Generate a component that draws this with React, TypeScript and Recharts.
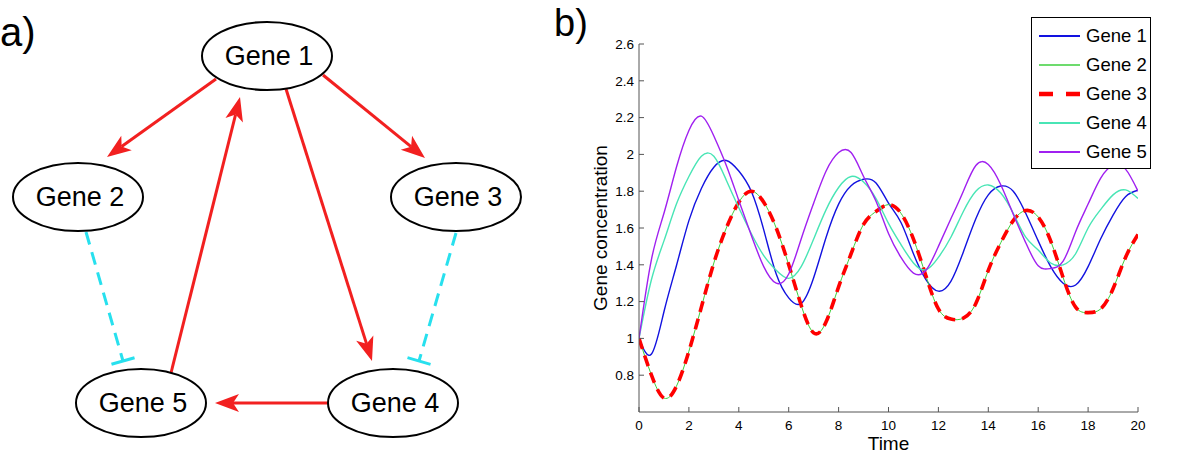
import React from 'react';
import {
  LineChart,
  Line,
  XAxis,
  YAxis,
  Legend,
  Label,
  ScatterChart,
  Scatter,
  ReferenceLine,
} from 'recharts';

// ---- panel b) data (time step 0.5) ----
const time = [
  0, 0.5, 1, 1.5, 2, 2.5, 3, 3.5, 4, 4.5, 5, 5.5, 6, 6.5, 7, 7.5, 8, 8.5, 9, 9.5, 10,
  10.5, 11, 11.5, 12, 12.5, 13, 13.5, 14, 14.5, 15, 15.5, 16, 16.5, 17, 17.5, 18, 18.5, 19, 19.5, 20,
];
const gene1 = [
  1.0, 0.915, 1.145, 1.395, 1.64, 1.815, 1.93, 1.967, 1.91, 1.8, 1.59, 1.35, 1.22, 1.19, 1.33, 1.55,
  1.73, 1.83, 1.865, 1.845, 1.735, 1.63, 1.46, 1.32, 1.257, 1.31, 1.47, 1.65, 1.78, 1.828, 1.8, 1.68,
  1.53, 1.39, 1.3, 1.29, 1.39, 1.54, 1.67, 1.77, 1.805,
];
const gene3 = [
  1.0, 0.8, 0.676, 0.74, 0.93, 1.17, 1.41, 1.6, 1.74, 1.8, 1.74, 1.6, 1.4, 1.18, 1.03, 1.09, 1.28,
  1.46, 1.62, 1.69, 1.727, 1.68, 1.54, 1.34, 1.16, 1.105, 1.11, 1.19, 1.37, 1.52, 1.64, 1.695, 1.66,
  1.53, 1.33, 1.17, 1.14, 1.16, 1.27, 1.44, 1.565,
];
// gene 2 lies exactly under gene 3 in the figure
const gene2 = gene3;
const gene4 = [
  1.0, 1.32, 1.53, 1.73, 1.88, 1.99, 1.99, 1.86, 1.71, 1.57, 1.45, 1.37, 1.326, 1.39, 1.54, 1.7,
  1.82, 1.88, 1.85, 1.76, 1.625, 1.51, 1.41, 1.373, 1.44, 1.55, 1.69, 1.8, 1.834, 1.79, 1.68, 1.55,
  1.48, 1.41, 1.4, 1.46, 1.6, 1.7, 1.78, 1.807, 1.76,
];
const gene5 = [
  1.0, 1.43, 1.68, 1.93, 2.13, 2.208, 2.1, 1.94, 1.75, 1.56, 1.39, 1.3, 1.35, 1.54, 1.735, 1.91,
  2.01, 2.01, 1.88, 1.745, 1.57, 1.44, 1.355, 1.37, 1.5, 1.65, 1.8, 1.94, 1.945, 1.835, 1.675, 1.52,
  1.395, 1.38, 1.42, 1.58, 1.73, 1.87, 1.94, 1.92, 1.8,
];
const xTicks = [0, 2, 4, 6, 8, 10, 12, 14, 16, 18, 20];
const yTicks = [0.8, 1, 1.2, 1.4, 1.6, 1.8, 2, 2.2, 2.4, 2.6];

// ---- panel a) network, in the panel's own 540x464 space ----
const nodes = [
  { name: 'Gene 1', x: 267, y: 56 },
  { name: 'Gene 2', x: 78, y: 197 },
  { name: 'Gene 3', x: 456, y: 197 },
  { name: 'Gene 4', x: 393, y: 403 },
  { name: 'Gene 5', x: 141, y: 403 },
];
const edges = [
  { from: [216, 79], to: [107, 157], kind: 'act' },
  { from: [323, 75], to: [425, 158], kind: 'act' },
  { from: [286, 89], to: [372, 361], kind: 'act' },
  { from: [171, 373], to: [240, 97], kind: 'act' },
  { from: [328, 403], to: [215, 403], kind: 'act' },
  { from: [86, 232], to: [123, 361], kind: 'inh' },
  { from: [456, 233], to: [419, 361], kind: 'inh' },
];

const FONT = '"Liberation Sans", Arial, Helvetica, sans-serif';
const RED = '#f22020';
const CYAN = '#27e0ee';

const SERIES = [
  { key: 'gene1', name: 'Gene 1', color: '#1212e0', width: 1.4 },
  { key: 'gene2', name: 'Gene 2', color: '#3ccf3c', width: 1 },
  { key: 'gene3', name: 'Gene 3', color: '#ff0000', width: 3.6, dash: '11 7', legendDash: '14 13' },
  { key: 'gene4', name: 'Gene 4', color: '#48e5b5', width: 1.4 },
  { key: 'gene5', name: 'Gene 5', color: '#a020f0', width: 1.4 },
];

const rows = time.map((t, i) => ({
  t,
  gene1: gene1[i],
  gene2: gene2[i],
  gene3: gene3[i],
  gene4: gene4[i],
  gene5: gene5[i],
}));

function EdgeShape(props: any) {
  const { x1, y1, x2, y2, kind } = props;
  const dx = x2 - x1;
  const dy = y2 - y1;
  const len = Math.hypot(dx, dy) || 1;
  const ux = dx / len;
  const uy = dy / len;
  const px = -uy;
  const py = ux;
  if (kind === 'inh') {
    const bar = 12;
    return (
      <g>
        <line x1={x1} y1={y1} x2={x2} y2={y2} stroke={CYAN} strokeWidth={3} strokeDasharray="13 8" />
        <line
          x1={x2 + px * bar}
          y1={y2 + py * bar}
          x2={x2 - px * bar}
          y2={y2 - py * bar}
          stroke={CYAN}
          strokeWidth={3}
        />
      </g>
    );
  }
  const L = 24;
  const W = 9;
  const notch = 6;
  const bx = x2 - ux * L;
  const by = y2 - uy * L;
  const nx = x2 - ux * (L - notch);
  const ny = y2 - uy * (L - notch);
  const pts = `${x2},${y2} ${bx + px * W},${by + py * W} ${nx},${ny} ${bx - px * W},${by - py * W}`;
  return (
    <g>
      <line x1={x1} y1={y1} x2={nx} y2={ny} stroke={RED} strokeWidth={3} />
      <polygon points={pts} fill={RED} />
    </g>
  );
}

function NodeShape(props: any) {
  const { cx, cy, payload } = props;
  return (
    <g>
      <ellipse cx={cx} cy={cy} rx={65} ry={34} fill="#fff" stroke="#000" strokeWidth={2} />
      <text
        x={cx + 2}
        y={cy}
        textAnchor="middle"
        dominantBaseline="central"
        fontSize={27}
        fontFamily={FONT}
        fill="#000"
      >
        {payload.name}
      </text>
    </g>
  );
}

function renderLegend(props: any) {
  const payload = props.payload || [];
  return (
    <div
      style={{
        boxSizing: 'border-box',
        width: 120,
        height: 152,
        border: '1px solid #000',
        background: '#fff',
        paddingTop: 3,
        fontFamily: FONT,
      }}
    >
      {payload.map((entry: any) => {
        const s = SERIES.find((x) => x.key === entry.dataKey) || SERIES[0];
        return (
          <div key={s.key} style={{ height: 29, display: 'flex', alignItems: 'center' }}>
            <svg width={48} height={10} style={{ marginLeft: 6, display: 'block' }}>
              <line
                x1={1}
                y1={5}
                x2={42}
                y2={5}
                stroke={s.color}
                strokeWidth={s.legendDash ? 4.5 : s.width + 0.4}
                strokeDasharray={s.legendDash}
              />
            </svg>
            <span style={{ fontSize: 18.5, color: '#000', whiteSpace: 'nowrap' }}>{entry.value}</span>
          </div>
        );
      })}
    </div>
  );
}

const tickStyle = { fontSize: 13.5, fill: '#000', fontFamily: FONT };

export default function App() {
  return (
    <div
      style={{
        position: 'absolute',
        left: 0,
        top: 0,
        width: 1200,
        height: 464,
        background: '#fff',
        overflow: 'hidden',
        fontFamily: FONT,
      }}
    >
      <div style={{ position: 'absolute', left: 0, top: 10, fontSize: 40, lineHeight: '44px' }}>a)</div>
      <div style={{ position: 'absolute', left: 554, top: 2, fontSize: 38, lineHeight: '42px' }}>b)</div>

      <div style={{ position: 'absolute', left: 0, top: 0 }}>
        <ScatterChart width={540} height={464} margin={{ top: 0, right: 0, bottom: 0, left: 0 }}>
          <XAxis type="number" dataKey="x" domain={[0, 540]} allowDataOverflow hide />
          <YAxis type="number" dataKey="y" domain={[0, 464]} allowDataOverflow reversed hide />
          {edges.map((e, i) => (
            <ReferenceLine
              key={i}
              segment={[
                { x: e.from[0], y: e.from[1] },
                { x: e.to[0], y: e.to[1] },
              ]}
              shape={(p: any) => <EdgeShape {...p} kind={e.kind} />}
            />
          ))}
          <Scatter data={nodes} shape={NodeShape} isAnimationActive={false} />
        </ScatterChart>
      </div>

      <div style={{ position: 'absolute', left: 540, top: 0 }}>
        <LineChart width={660} height={464} data={rows} margin={{ top: 44, right: 62, bottom: 14, left: 39 }}>
          <XAxis
            xAxisId="bottom"
            type="number"
            dataKey="t"
            domain={[0, 20]}
            ticks={xTicks}
            interval={0}
            allowDataOverflow
            height={38}
            tickSize={-5}
            tickMargin={13}
            tick={tickStyle}
            axisLine={{ stroke: '#555' }}
            tickLine={{ stroke: '#555' }}
          >
            <Label value="Time" position="insideBottom" offset={0} fontSize={19} fill="#000" fontFamily={FONT} />
          </XAxis>
          <XAxis
            xAxisId="top"
            orientation="top"
            type="number"
            dataKey="t"
            domain={[0, 20]}
            ticks={xTicks}
            interval={0}
            allowDataOverflow
            height={0}
            tickSize={-5}
            tick={false}
            axisLine={{ stroke: '#000' }}
            tickLine={{ stroke: '#000' }}
          />
          <YAxis
            yAxisId="left"
            type="number"
            domain={[0.6, 2.6]}
            ticks={yTicks}
            interval={0}
            allowDataOverflow
            width={60}
            tickSize={-5}
            tickMargin={10}
            tick={tickStyle}
            axisLine={{ stroke: '#555' }}
            tickLine={{ stroke: '#555' }}
          >
            <Label
              content={(p: any) => {
                const vb = p.viewBox || { x: 39, y: 44, width: 60, height: 368 };
                const cx = vb.x + 21;
                const cy = vb.y + vb.height / 2;
                return (
                  <text
                    x={cx}
                    y={cy}
                    transform={`rotate(-90 ${cx} ${cy})`}
                    textAnchor="middle"
                    dominantBaseline="central"
                    fontSize={19}
                    fontFamily={FONT}
                    fill="#000"
                  >
                    Gene concentration
                  </text>
                );
              }}
            />
          </YAxis>
          <YAxis
            yAxisId="right"
            orientation="right"
            type="number"
            domain={[0.6, 2.6]}
            ticks={yTicks}
            interval={0}
            allowDataOverflow
            width={0}
            tickSize={-5}
            tick={false}
            axisLine={{ stroke: '#000' }}
            tickLine={{ stroke: '#000' }}
          />
          {SERIES.map((s) => (
            <Line
              key={s.key}
              xAxisId="bottom"
              yAxisId="left"
              type="natural"
              dataKey={s.key}
              name={s.name}
              stroke={s.color}
              strokeWidth={s.width}
              strokeDasharray={s.dash}
              dot={false}
              activeDot={false}
              isAnimationActive={false}
            />
          ))}
          <Legend
            layout="vertical"
            align="center"
            verticalAlign="middle"
            wrapperStyle={{ left: 491, top: 17, width: 120, height: 152 }}
            content={renderLegend}
          />
        </LineChart>
      </div>
    </div>
  );
}
